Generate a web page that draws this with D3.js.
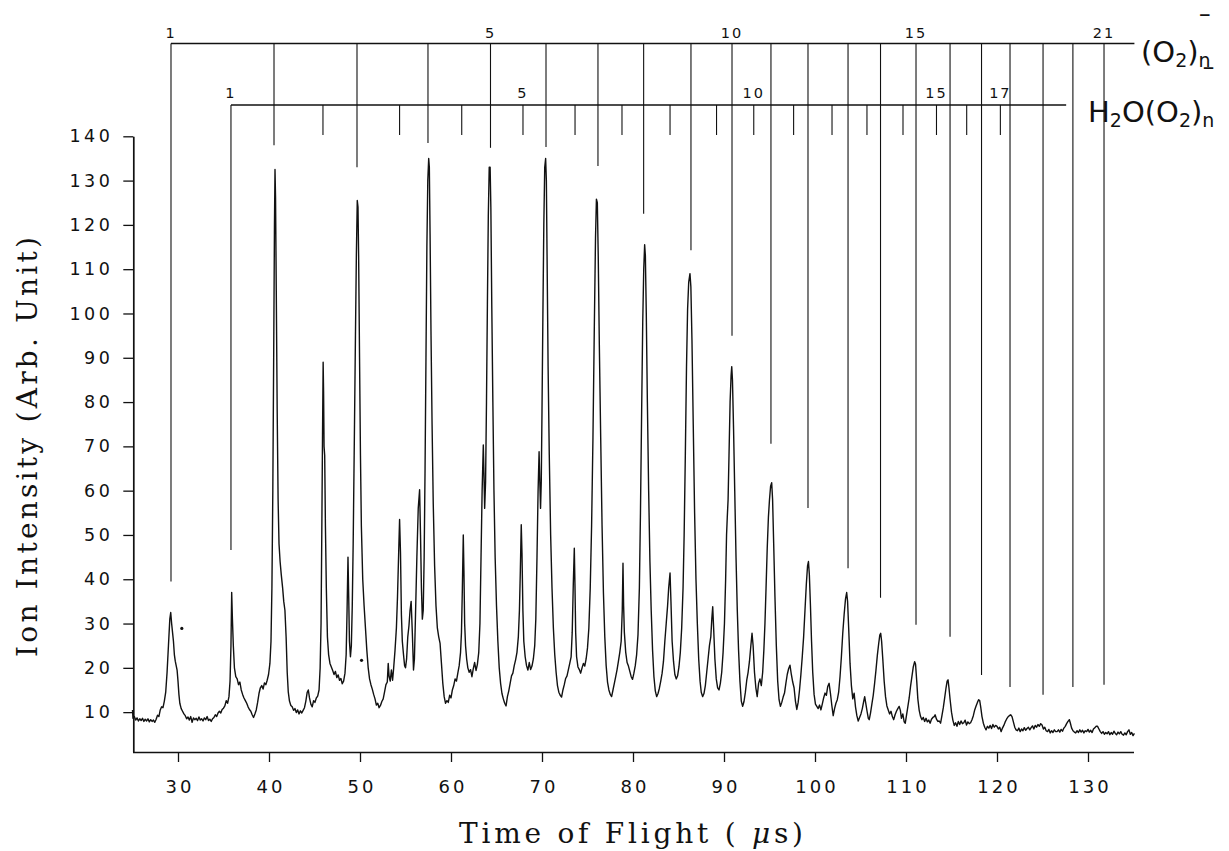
<!DOCTYPE html>
<html>
<head>
<meta charset="utf-8">
<script src="https://cdn.jsdelivr.net/npm/d3@7/dist/d3.min.js"></script>
<style>
html,body{margin:0;padding:0;background:#fff;}
svg{display:block;}
</style>
</head>
<body>
<svg id="chart" width="1229" height="851"></svg>
<script>
// ---------------- DATA ----------------
const xTickValues = [30, 40, 50, 60, 70, 80, 90, 100, 110, 120, 130];
const yTickValues = [10, 20, 30, 40, 50, 60, 70, 80, 90, 100, 110, 120, 130, 140];

// (O2)n- progression: time of flight of each marker (n = 1..21) and where its drop line stops
const o2Ticks = [29.23, 40.55, 49.67, 57.47, 64.34, 70.44, 76.15, 81.17, 86.37, 90.88, 95.16,
                 99.23, 103.63, 107.2, 111.1, 114.84, 118.3, 121.43, 125.06, 128.34, 131.76];
const o2LineEnds = [39.5, 138, 133, 138.5, 137.4, 137.6, 133.3, 122.5, 114.3, 95, 70.6,
                    56.1, 42.5, 35.8, 29.7, 27, 18.4, 15.7, 13.9, 15.7, 16.2];
const o2LabelN = [1, 5, 10, 15, 21];
const o2RowEnd = 135.1;

// H2O(O2)n- progression: n = 1..17
const h2oTicks = [35.82, 45.93, 54.35, 61.18, 67.91, 73.63, 78.79, 84.07, 89.18, 93.27,
                  97.65, 101.87, 105.71, 109.67, 113.35, 116.67, 120.37];
const h2oLineEnds = [46.6, null, null, null, null, null, null, null, null, null,
                     null, null, null, null, null, null, null];
const h2oLabelN = [1, 5, 10, 15, 17];
const h2oRowEnd = 127.6;

// stray specks in the scan
const specks = [[30.42, 28.9], [50.17, 21.7]];

// spectrum: [time of flight (us), ion intensity]
const spectrum = [
[25.0,10.5],[25.05,8.6],[25.2,9.0],[25.35,8.2],[25.5,8.7],[25.65,8.0],[25.8,8.5],[25.95,8.1],[26.1,8.6],[26.25,7.9],
[26.4,8.4],[26.55,8.0],[26.7,8.5],[26.85,7.8],[27.0,8.3],[27.15,7.9],[27.3,8.2],[27.45,7.7],[27.6,8.4],[27.75,9.3],
[27.9,9.0],[28.05,10.5],[28.2,11.2],[28.35,11.0],[28.5,12.5],[28.65,14.5],[28.8,19],[28.95,25],[29.1,31],[29.2,32.5],
[29.3,30],[29.4,28],[29.5,26],[29.6,23],[29.7,21.5],[29.8,20.5],[29.9,19.5],[30.0,17],[30.1,14],[30.2,12],
[30.35,10.8],[30.5,10.2],[30.65,9.6],[30.8,9.2],[30.95,8.5],[31.1,8.9],[31.25,8.2],[31.4,9.0],[31.55,7.7],[31.7,8.7],
[31.85,8.3],[32.0,8.6],[32.15,8.1],[32.3,8.9],[32.45,8.2],[32.6,8.5],[32.75,8.0],[32.9,8.7],[33.05,8.3],[33.2,9.0],
[33.35,8.1],[33.5,8.4],[33.65,7.9],[33.8,8.5],[33.95,8.8],[34.1,9.4],[34.25,9.0],[34.4,9.8],[34.55,10.2],[34.7,9.8],
[34.85,10.6],[35.0,10.9],[35.15,11.4],[35.3,12.6],[35.45,12.0],[35.6,13.5],[35.72,17],[35.82,25],[35.9,37],[35.98,31],
[36.08,25],[36.2,20],[36.35,18],[36.5,17.5],[36.65,16.2],[36.8,16.8],[36.95,15],[37.1,14],[37.25,13.2],[37.4,12.6],
[37.55,12],[37.7,11.2],[37.85,10.6],[38.0,10.2],[38.15,9.4],[38.3,8.8],[38.45,9.6],[38.6,10.5],[38.75,12.2],[38.9,14.2],
[39.05,15.5],[39.2,16.0],[39.35,15.2],[39.5,16.6],[39.65,16.2],[39.8,17.2],[39.95,18.5],[40.1,21],[40.22,26],[40.32,38],
[40.42,60],[40.52,92],[40.6,120],[40.66,132.5],[40.72,126],[40.8,105],[40.9,78],[41.0,58],[41.1,48],[41.22,44],
[41.35,41],[41.5,38],[41.62,35],[41.75,33],[41.88,27],[42.0,19],[42.12,14.5],[42.25,12.5],[42.4,11.5],[42.55,11.2],
[42.7,10.4],[42.85,10.8],[43.0,9.9],[43.15,10.5],[43.3,9.6],[43.45,10.3],[43.6,9.8],[43.75,10.4],[43.9,11.0],[44.05,12.5],
[44.2,14.5],[44.32,15],[44.45,13.2],[44.6,11.8],[44.75,11.2],[44.9,12.6],[45.05,12.2],[45.2,13.2],[45.35,13.6],[45.5,15],
[45.62,20],[45.72,30],[45.8,50],[45.88,72],[45.95,89],[46.0,82],[46.05,70],[46.12,68],[46.2,52],[46.3,38],
[46.42,27],[46.55,23],[46.7,21],[46.85,20.2],[47.0,19.4],[47.15,18.5],[47.3,19.2],[47.45,17.8],[47.6,18.4],[47.75,17.2],
[47.9,17.6],[48.05,16.4],[48.2,17.0],[48.35,18.8],[48.48,23],[48.58,33],[48.68,45],[48.76,36],[48.84,26],[48.95,22.5],
[49.05,25],[49.15,34],[49.25,48],[49.38,72],[49.5,95],[49.6,113],[49.7,125.5],[49.78,124],[49.85,113],[49.95,90],
[50.05,68],[50.15,52],[50.3,40],[50.45,34],[50.6,29],[50.75,24],[50.9,20],[51.05,17.5],[51.2,16.2],[51.35,15.2],
[51.5,14.0],[51.65,13.0],[51.8,11.6],[51.95,12.0],[52.1,11.0],[52.25,11.5],[52.4,12.4],[52.55,13.0],[52.7,14.6],[52.85,16.2],
[53.0,16.8],[53.1,21],[53.2,18],[53.32,17],[53.45,19.5],[53.58,17.2],[53.7,20],[53.85,24],[54.0,29],[54.12,36],
[54.25,46],[54.35,53.5],[54.45,46],[54.55,32],[54.65,26],[54.78,23],[54.9,20.5],[55.0,20],[55.12,22],[55.25,27],
[55.38,29.5],[55.5,33],[55.62,35],[55.75,28],[55.88,19.5],[55.98,22],[56.1,32],[56.25,45],[56.4,56],[56.55,60.2],
[56.65,50],[56.75,38],[56.85,31],[56.95,33],[57.05,45],[57.15,65],[57.25,90],[57.35,115],[57.45,130],[57.55,135],
[57.62,133],[57.7,118],[57.8,96],[57.92,75],[58.05,57],[58.2,43],[58.35,34],[58.5,29],[58.65,27],[58.8,25.5],
[58.95,21],[59.1,16.5],[59.25,13.5],[59.4,12.0],[59.55,12.6],[59.7,12.2],[59.85,13.8],[60.0,13.2],[60.15,15],[60.3,16],
[60.45,17.5],[60.6,17],[60.75,18.8],[60.9,20.5],[61.05,23.5],[61.15,28],[61.25,38],[61.35,50],[61.42,42],[61.5,30],
[61.6,25],[61.72,22],[61.85,20],[62.0,19],[62.15,19.6],[62.3,18],[62.45,19.8],[62.6,21.2],[62.75,19.4],[62.9,20.8],
[63.05,23.5],[63.18,30],[63.3,45],[63.42,60],[63.55,70.3],[63.62,64],[63.7,56],[63.8,62],[63.9,80],[64.0,102],
[64.1,122],[64.2,133],[64.3,133],[64.38,124],[64.48,102],[64.6,80],[64.72,60],[64.85,45],[65.0,34],[65.15,26],
[65.3,20],[65.45,16.5],[65.6,14.2],[65.75,13.0],[65.9,12.0],[66.05,11.4],[66.2,13.5],[66.35,14.8],[66.5,16.5],[66.65,18.2],
[66.8,18.8],[66.95,20.5],[67.1,21.8],[67.25,23.5],[67.4,27],[67.52,33],[67.62,42],[67.72,52.3],[67.8,46],[67.9,33],
[68.0,26],[68.15,22.5],[68.3,20.5],[68.45,19.5],[68.6,21.2],[68.75,19.6],[68.9,20.4],[69.05,22],[69.2,25],[69.32,31],
[69.45,45],[69.57,60],[69.68,68.8],[69.76,62],[69.84,56],[69.92,62],[70.0,78],[70.1,100],[70.2,120],[70.3,133],
[70.4,135],[70.48,130],[70.57,110],[70.67,88],[70.8,68],[70.95,50],[71.1,38],[71.25,29],[71.4,23],[71.55,19],
[71.7,16],[71.85,14.5],[72.0,13.8],[72.15,13.4],[72.3,15],[72.45,16.2],[72.6,17.6],[72.75,18.2],[72.9,19.6],[73.05,21],
[73.2,22.5],[73.32,28],[73.44,39],[73.55,47],[73.62,39],[73.7,28],[73.8,22.5],[73.95,20.2],[74.1,19.6],[74.25,18.8],
[74.4,20],[74.55,21],[74.7,20.4],[74.85,22],[75.0,24.5],[75.15,29],[75.3,38],[75.45,52],[75.6,72],[75.75,97],
[75.88,117],[75.98,125.8],[76.08,125],[76.18,113],[76.3,93],[76.45,72],[76.6,52],[76.75,37],[76.9,27],[77.05,20.5],
[77.2,16.8],[77.35,15],[77.5,14],[77.65,13.5],[77.8,15],[77.95,16.5],[78.1,18],[78.25,19.6],[78.4,21.5],[78.55,23.5],
[78.7,26],[78.82,33],[78.9,43.6],[78.97,34],[79.05,28],[79.2,23.5],[79.35,21.2],[79.5,20.4],[79.65,19.2],[79.8,18],
[79.95,17.4],[80.1,18.8],[80.25,20.5],[80.4,23],[80.55,27.5],[80.7,38],[80.82,55],[80.95,78],[81.07,98],[81.18,110],
[81.28,115.5],[81.36,113],[81.46,100],[81.58,80],[81.72,60],[81.86,44],[82.0,33],[82.15,24],[82.3,18],[82.45,14.8],
[82.6,13.5],[82.75,14.2],[82.9,15.4],[83.05,17],[83.2,18.8],[83.35,21.5],[83.5,26],[83.65,30],[83.8,34],[83.92,38],
[84.07,41.4],[84.17,35],[84.3,26],[84.45,21.5],[84.6,18.5],[84.75,17.5],[84.9,18.2],[85.05,20.2],[85.2,23.5],[85.35,29],
[85.5,38],[85.62,50],[85.75,68],[85.88,88],[86.0,101],[86.12,107],[86.26,109],[86.36,106],[86.48,94],[86.62,75],
[86.77,55],[86.92,40],[87.07,30],[87.22,22],[87.37,17],[87.5,14.5],[87.65,13.5],[87.8,14.2],[87.95,16],[88.1,19],
[88.25,22],[88.4,25],[88.55,27],[88.66,31],[88.76,33.8],[88.86,29],[89.0,22],[89.15,17.5],[89.3,15.5],[89.45,15],
[89.6,16.5],[89.75,19],[89.9,23.5],[90.05,30],[90.18,40],[90.28,50],[90.36,54],[90.45,58],[90.55,68],[90.67,80],
[90.78,86],[90.85,88],[90.93,85],[91.05,74],[91.18,60],[91.32,45],[91.46,33],[91.6,24],[91.75,17],[91.9,12.5],
[92.05,11.3],[92.2,12.4],[92.35,14.5],[92.5,17.2],[92.65,19],[92.8,21.5],[92.95,25],[93.08,27.8],[93.2,25],[93.35,19],
[93.5,15.5],[93.65,13.5],[93.8,16.5],[93.95,17.5],[94.1,16],[94.25,19],[94.38,24],[94.5,30],[94.62,38],[94.75,47],
[94.88,54],[95.0,58],[95.12,61],[95.24,61.8],[95.34,58],[95.46,48],[95.6,36],[95.75,25],[95.9,17],[96.05,12.8],
[96.2,11.3],[96.35,12.2],[96.5,13.4],[96.65,14.3],[96.8,16.5],[96.95,18.5],[97.1,19.8],[97.25,20.6],[97.4,18.5],[97.55,16.8],
[97.7,15.5],[97.85,12.5],[98.0,10.6],[98.15,12.2],[98.3,15],[98.45,18.5],[98.6,22.5],[98.75,27],[98.9,33],[99.05,39],
[99.18,43],[99.28,44],[99.38,41],[99.5,34],[99.62,26],[99.75,19],[99.9,14],[100.05,11.8],[100.2,11.3],[100.35,10.8],
[100.5,11.6],[100.65,10.5],[100.8,11.8],[100.95,13.2],[101.1,14.3],[101.25,13.8],[101.4,15.8],[101.55,16.5],[101.7,14.2],[101.85,11.5],
[102.0,9.2],[102.15,10.8],[102.3,12],[102.45,12.8],[102.6,14.5],[102.75,18],[102.9,22.5],[103.05,27.8],[103.2,32],[103.35,35.5],
[103.48,37],[103.58,35],[103.7,29],[103.85,21],[104.0,16],[104.15,13],[104.3,14.3],[104.45,11.2],[104.6,9.2],[104.75,8.0],
[104.9,8.8],[105.05,9.6],[105.2,10.8],[105.35,12.4],[105.46,13.5],[105.58,12],[105.72,10.2],[105.86,8.6],[105.96,8.3],[106.1,9.8],
[106.25,11.8],[106.4,13.8],[106.55,16.5],[106.7,19.5],[106.85,22.8],[107.0,25.5],[107.12,27.4],[107.22,27.8],[107.32,26],[107.45,22],
[107.6,17],[107.75,13.5],[107.9,11.4],[108.05,10.5],[108.2,9.6],[108.35,10.2],[108.5,9.0],[108.65,8.3],[108.8,9.4],[108.95,10.2],
[109.1,10.8],[109.25,11.3],[109.38,10.4],[109.5,8.6],[109.65,9.6],[109.8,7.8],[109.92,7.5],[110.05,9.2],[110.2,11.2],[110.35,13.2],
[110.5,15.8],[110.65,18],[110.8,20.2],[110.95,21.4],[111.05,20.8],[111.18,17],[111.3,13],[111.45,10.4],[111.6,9],[111.75,8.3],
[111.9,8.8],[112.05,7.9],[112.2,8.6],[112.35,7.8],[112.5,8.2],[112.65,7.5],[112.8,8.4],[112.95,8.8],[113.1,9.0],[113.2,9.4],
[113.35,8.4],[113.5,7.9],[113.65,8.0],[113.8,7.5],[113.95,9.2],[114.1,11],[114.25,13.2],[114.4,15.5],[114.52,17.0],[114.62,17.3],
[114.72,15.5],[114.85,12.8],[115.0,10],[115.15,8.2],[115.3,7.0],[115.45,7.6],[115.6,6.8],[115.75,7.9],[115.9,7.2],[116.05,8.0],
[116.2,7.4],[116.35,7.6],[116.5,8.2],[116.65,7.1],[116.8,7.8],[116.95,7.4],[117.1,7.6],[117.25,8.3],[117.4,9.2],[117.55,10.5],
[117.7,11.4],[117.85,12.2],[117.98,12.8],[118.1,12.6],[118.22,11],[118.35,9],[118.5,7.5],[118.65,6.6],[118.8,6.0],[118.95,6.8],
[119.1,6.4],[119.25,7.0],[119.4,6.3],[119.55,7.2],[119.7,6.6],[119.85,7.0],[120.0,6.8],[120.15,6.2],[120.3,6.6],[120.45,5.6],
[120.6,6.4],[120.75,7.0],[120.9,7.8],[121.05,8.4],[121.2,8.9],[121.35,9.2],[121.5,9.4],[121.65,9.0],[121.8,7.8],[121.95,6.6],
[122.1,6.0],[122.25,5.8],[122.4,6.4],[122.55,5.6],[122.7,6.2],[122.85,5.8],[123.0,6.5],[123.15,5.9],[123.3,6.3],[123.45,6.6],
[123.6,6.0],[123.75,6.5],[123.9,6.9],[124.05,6.2],[124.2,7.0],[124.35,6.6],[124.5,7.2],[124.65,6.8],[124.8,7.4],[124.95,7.1],
[125.1,6.2],[125.25,6.6],[125.4,5.8],[125.55,5.6],[125.7,6.1],[125.85,5.3],[126.0,5.8],[126.15,5.4],[126.3,6.0],[126.45,5.6],
[126.6,5.6],[126.75,6.0],[126.9,5.5],[127.05,6.1],[127.2,5.7],[127.35,6.4],[127.5,6.8],[127.65,7.4],[127.8,7.9],[127.95,8.3],
[128.05,7.6],[128.2,6.4],[128.35,5.8],[128.5,5.5],[128.65,5.3],[128.8,5.8],[128.95,5.4],[129.1,6.0],[129.25,5.5],[129.4,5.9],
[129.55,5.3],[129.7,5.8],[129.85,5.6],[130.0,6.1],[130.15,5.5],[130.3,5.9],[130.45,5.4],[130.6,6.2],[130.75,6.5],[130.9,6.8],
[131.05,6.8],[131.2,6.2],[131.35,5.6],[131.5,5.2],[131.65,5.6],[131.8,5.0],[131.95,5.4],[132.1,5.1],[132.25,5.6],[132.4,4.9],
[132.55,5.4],[132.7,5.0],[132.85,5.7],[133.0,5.2],[133.15,4.9],[133.3,5.5],[133.45,5.1],[133.6,5.6],[133.75,5.0],[133.9,4.8],
[134.05,5.3],[134.2,4.9],[134.35,5.6],[134.5,6.0],[134.65,5.0],[134.8,5.4],[134.95,4.7],[135.1,5.2]
];

// ---------------- CHART ----------------
const svg = d3.select('#chart');
const x = d3.scaleLinear().domain([25, 135]).range([132.5, 1133.5]);
const y = d3.scaleLinear().domain([1, 140]).range([752, 136.3]);

const INK = '#111';
const tickFont = 'DejaVu Sans, Liberation Sans, sans-serif';
const serif = 'DejaVu Serif, Liberation Serif, serif';

// x axis
const gx = svg.append('g').attr('transform', 'translate(0,752)')
  .call(d3.axisBottom(x).tickValues(xTickValues).tickSize(10).tickSizeOuter(0).tickPadding(18).tickFormat(d3.format('d')));
gx.select('.domain').attr('stroke', INK).attr('stroke-width', 1.7);
gx.selectAll('.tick line').attr('stroke', INK).attr('stroke-width', 1.3);
gx.selectAll('.tick text').attr('font-family', tickFont).attr('font-size', 18)
  .attr('letter-spacing', 3).attr('dx', 1.5).attr('fill', INK);

// y axis
const gy = svg.append('g').attr('transform', 'translate(133.3,0)')
  .call(d3.axisLeft(y).tickValues(yTickValues).tickSize(10).tickSizeOuter(0).tickPadding(10).tickFormat(d3.format('d')));
gy.select('.domain').attr('stroke', INK).attr('stroke-width', 1.7);
gy.selectAll('.tick line').attr('stroke', INK).attr('stroke-width', 1.3);
gy.selectAll('.tick text').attr('font-family', tickFont).attr('font-size', 17.5)
  .attr('letter-spacing', 3.5).attr('fill', INK);

// axis titles
svg.append('text')
  .attr('transform', 'translate(37,447) rotate(-90)')
  .attr('text-anchor', 'middle')
  .attr('font-family', serif).attr('font-size', 28).attr('fill', INK)
  .attr('textLength', 420).attr('lengthAdjust', 'spacing')
  .text('Ion Intensity (Arb. Unit)');

const xt = svg.append('text')
  .attr('x', 459).attr('y', 843)
  .attr('font-family', serif).attr('font-size', 28).attr('fill', INK)
  .attr('textLength', 344).attr('lengthAdjust', 'spacing');
xt.append('tspan').text('Time of Flight ( ');
xt.append('tspan').attr('font-style', 'italic').text('\u03bc');
xt.append('tspan').text('s)');

// spectrum trace
const line = d3.line().x(d => x(d[0])).y(d => y(d[1]));
svg.append('path').datum(spectrum)
  .attr('d', line).attr('fill', 'none').attr('stroke', INK)
  .attr('stroke-width', 1.4).attr('stroke-linejoin', 'round');

svg.selectAll('circle.speck').data(specks).enter().append('circle')
  .attr('class', 'speck').attr('cx', d => x(d[0])).attr('cy', d => y(d[1])).attr('r', 1.6).attr('fill', INK);

// ---------------- progression markers ----------------
const row1Y = 43.5, row2Y = 105, shortTick = 30;
const mk = svg.append('g').attr('stroke', INK).attr('stroke-width', 1.1);

mk.append('line').attr('x1', x(o2Ticks[0])).attr('x2', x(o2RowEnd)).attr('y1', row1Y).attr('y2', row1Y).attr('stroke-width', 1.5);
mk.selectAll('line.o2').data(o2Ticks).enter().append('line').attr('class', 'o2')
  .attr('x1', d => x(d)).attr('x2', d => x(d))
  .attr('y1', row1Y).attr('y2', (d, i) => y(o2LineEnds[i]));

mk.append('line').attr('x1', x(h2oTicks[0])).attr('x2', x(h2oRowEnd)).attr('y1', row2Y).attr('y2', row2Y).attr('stroke-width', 1.5);
mk.selectAll('line.h2o').data(h2oTicks).enter().append('line').attr('class', 'h2o')
  .attr('x1', d => x(d)).attr('x2', d => x(d))
  .attr('y1', row2Y).attr('y2', (d, i) => h2oLineEnds[i] == null ? row2Y + shortTick : y(h2oLineEnds[i]));

svg.selectAll('text.o2n').data(o2LabelN).enter().append('text').attr('class', 'o2n')
  .attr('x', n => x(o2Ticks[n - 1])).attr('y', 38)
  .attr('text-anchor', 'middle').attr('font-family', tickFont).attr('font-size', 14.5)
  .attr('letter-spacing', 2).attr('fill', INK).text(n => n);
svg.selectAll('text.h2on').data(h2oLabelN).enter().append('text').attr('class', 'h2on')
  .attr('x', n => x(h2oTicks[n - 1])).attr('y', 98)
  .attr('text-anchor', 'middle').attr('font-family', tickFont).attr('font-size', 14.5)
  .attr('letter-spacing', 2).attr('fill', INK).text(n => n);

// series labels (superscript minus set over the subscript n)
function formula(parts, x0, yb, barDy) {
  const t = svg.append('text').attr('x', x0).attr('y', yb)
    .attr('font-family', tickFont).attr('font-size', 29).attr('fill', INK);
  parts.forEach(p => {
    const s = t.append('tspan').text(p[0]);
    if (p[1] === 'sub') s.attr('font-size', 19).attr('dy', 5);
    if (p[1] === 'up') s.attr('dy', -5);
  });
  const nSpan = t.append('tspan').text('n').attr('font-size', 19).attr('dy', 5);
  const nW = nSpan.node().getComputedTextLength();
  t.append('tspan').text('\u2212').attr('font-size', 15).attr('font-weight', 'bold')
    .attr('dx', -nW).attr('dy', barDy);
}
formula([['(O'], ['2', 'sub'], [')', 'up']], 1141, 62, -47);
formula([['H'], ['2', 'sub'], ['O(O', 'up'], ['2', 'sub'], [')', 'up']], 1088, 122, -54);
</script>
</body>
</html>
